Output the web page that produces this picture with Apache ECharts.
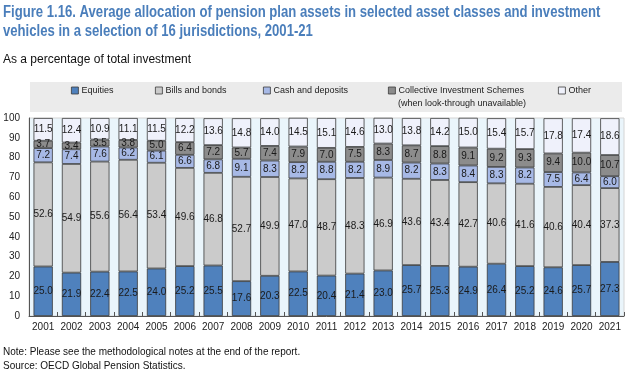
<!DOCTYPE html>
<html>
<head>
<meta charset="utf-8">
<script src="https://cdn.jsdelivr.net/npm/echarts@6/dist/echarts.min.js"></script>
<style>
  html, body { margin: 0; padding: 0; background: #fff; }
  #main { width: 632px; height: 376px; }
</style>
</head>
<body>
<div id="main"></div>
<script>
// 数据
const years = ['2001', '2002', '2003', '2004', '2005', '2006', '2007', '2008', '2009', '2010', '2011',
    '2012', '2013', '2014', '2015', '2016', '2017', '2018', '2019', '2020', '2021']
const equities = [25.0, 21.9, 22.4, 22.5, 24.0, 25.2, 25.5, 17.6, 20.3, 22.5, 20.4, 21.4, 23.0, 25.7, 25.3, 24.9, 26.4, 25.2, 24.6, 25.7, 27.3]
const billsBonds = [52.6, 54.9, 55.6, 56.4, 53.4, 49.6, 46.8, 52.7, 49.9, 47.0, 48.7, 48.3, 46.9, 43.6, 43.4, 42.7, 40.6, 41.6, 40.6, 40.4, 37.3]
const cashDeposits = [7.2, 7.4, 7.6, 6.2, 6.1, 6.6, 6.8, 9.1, 8.3, 8.2, 8.8, 8.2, 8.9, 8.2, 8.3, 8.4, 8.3, 8.2, 7.5, 6.4, 6.0]
const cis = [3.7, 3.4, 3.5, 3.8, 5.0, 6.4, 7.2, 5.7, 7.4, 7.9, 7.0, 7.5, 8.3, 8.7, 8.8, 9.1, 9.2, 9.3, 9.4, 10.0, 10.7]
const other = [11.5, 12.4, 10.9, 11.1, 11.5, 12.2, 13.6, 14.8, 14.0, 14.5, 15.1, 14.6, 13.0, 13.8, 14.2, 15.0, 15.4, 15.7, 17.8, 17.4, 18.6]

const font = "'Liberation Sans', Arial, sans-serif"

const chart = echarts.init(document.getElementById('main'), null, { renderer: 'canvas' })

// 每个系列的配置
function makeSeries(name, data, color) {
    return {
        name: name,
        type: 'bar',
        stack: 'total',
        barWidth: '68%',
        data: data,
        itemStyle: { color: color, borderColor: '#3a3a3a', borderWidth: 0.8 },
        label: {
            show: true,
            position: 'inside',
            fontFamily: font,
            fontSize: 10,
            color: '#1a1a1a',
            formatter: p => p.value.toFixed(1)
        }
    }
}

// 图例, 分开放置
function legendAt(name, left) {
    return {
        data: [name],
        left: left,
        top: 86,
        padding: 0,
        icon: 'rect',
        itemWidth: 7,
        itemHeight: 7,
        itemGap: 3,
        selectedMode: false,
        itemStyle: { borderColor: '#3a3a3a', borderWidth: 0.8 },
        textStyle: { fontFamily: font, fontSize: 9, color: '#222', padding: [0, 0, 0, -2] }
    }
}

// 压缩的文字 (没有窄字体)
function narrowText(text, x, y, size, weight, color, sx, lh) {
    return {
        type: 'text',
        x: x,
        y: y,
        scaleX: sx,
        style: {
            text: text,
            font: weight + ' ' + size + 'px ' + font,
            fill: color,
            lineHeight: lh
        }
    }
}

const option = {
    animation: false,
    backgroundColor: '#fff',
    graphic: [
        narrowText('Figure 1.16. Average allocation of pension plan assets in selected asset classes and investment\nvehicles in a selection of 16 jurisdictions, 2001-21',
            3, 3, 16, 'bold', '#4a7ebb', 0.82, 19),
        narrowText('As a percentage of total investment', 3, 53, 12, 'normal', '#111', 1, 14),
        narrowText('Note: Please see the methodological notes at the end of the report.\nSource: OECD Global Pension Statistics.',
            3, 345, 11, 'normal', '#111', 0.91, 14),
        {
            type: 'rect',
            x: 30,
            y: 82,
            shape: { width: 592, height: 30 },
            style: { fill: '#ebebeb' },
            z: -1
        },
        narrowText('(when look-through unavailable)', 398, 98, 9, 'normal', '#222', 1, 11)
    ],
    legend: [
        legendAt('Equities', 71),
        legendAt('Bills and bonds', 155),
        legendAt('Cash and deposits', 263),
        legendAt('Collective Investment Schemes', 388),
        legendAt('Other', 558)
    ],
    grid: {
        left: 29,
        right: 8,
        top: 118,
        bottom: 60,
        show: true,
        backgroundColor: '#eaf5fb',
        borderColor: '#d4d4d4',
        borderWidth: 1
    },
    xAxis: {
        type: 'category',
        data: years,
        axisLine: { lineStyle: { color: '#555', width: 1 } },
        axisTick: { show: true, inside: true, length: 4, lineStyle: { color: '#555' } },
        axisLabel: { interval: 0, fontFamily: font, fontSize: 10, color: '#222', margin: 6 }
    },
    yAxis: {
        type: 'value',
        min: 0,
        max: 100,
        interval: 10,
        axisLine: { show: true, lineStyle: { color: '#555', width: 1 } },
        axisTick: { show: false },
        splitLine: { show: false },
        axisLabel: { fontFamily: font, fontSize: 10, color: '#222', margin: 9 }
    },
    series: [
        makeSeries('Equities', equities, '#4f81bd'),
        makeSeries('Bills and bonds', billsBonds, '#cbcbcb'),
        makeSeries('Cash and deposits', cashDeposits, '#a7b9e6'),
        makeSeries('Collective Investment Schemes', cis, '#8c8c8c'),
        makeSeries('Other', other, '#eff1fb')
    ]
}

chart.setOption(option)
</script>
</body>
</html>
